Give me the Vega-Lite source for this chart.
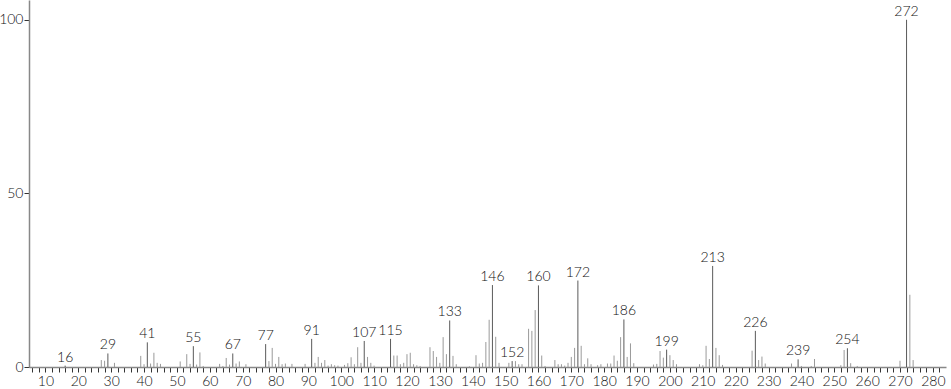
{
  "$schema": "https://vega.github.io/schema/vega-lite/v6.json",
  "width": 917,
  "height": 367,
  "autosize": {"type": "none"},
  "padding": {"left": 29, "top": 0, "right": 5, "bottom": 22},
  "background": "white",
  "config": {"view": {"stroke": null}, "font": "Lato"},
  "data": {"values": [
    {"mz":16,"i":0.4,"lab":1},{"mz":27,"i":2.0,"lab":0},{"mz":28,"i":1.8,"lab":0},{"mz":29,"i":3.9,"lab":1},{"mz":31,"i":1.2,"lab":0},
    {"mz":39,"i":3.2,"lab":0},{"mz":40,"i":0.8,"lab":0},{"mz":41,"i":7.1,"lab":1},{"mz":42,"i":1.0,"lab":0},{"mz":43,"i":4.1,"lab":0},
    {"mz":44,"i":1.2,"lab":0},{"mz":45,"i":0.9,"lab":0},{"mz":51,"i":1.6,"lab":0},{"mz":53,"i":3.7,"lab":0},{"mz":54,"i":0.9,"lab":0},
    {"mz":55,"i":6.0,"lab":1},{"mz":56,"i":0.7,"lab":0},{"mz":57,"i":4.2,"lab":0},{"mz":58,"i":0.3,"lab":0},{"mz":63,"i":0.9,"lab":0},
    {"mz":64,"i":0.3,"lab":0},{"mz":65,"i":2.6,"lab":0},{"mz":66,"i":0.7,"lab":0},{"mz":67,"i":3.9,"lab":1},{"mz":68,"i":1.0,"lab":0},
    {"mz":69,"i":1.6,"lab":0},{"mz":71,"i":0.8,"lab":0},{"mz":77,"i":6.6,"lab":1},{"mz":78,"i":1.7,"lab":0},{"mz":79,"i":5.5,"lab":0},
    {"mz":80,"i":0.9,"lab":0},{"mz":81,"i":2.9,"lab":0},{"mz":82,"i":0.8,"lab":0},{"mz":83,"i":1.0,"lab":0},{"mz":85,"i":0.9,"lab":0},
    {"mz":89,"i":0.9,"lab":0},{"mz":91,"i":8.1,"lab":1},{"mz":92,"i":1.2,"lab":0},{"mz":93,"i":2.9,"lab":0},{"mz":94,"i":1.2,"lab":0},
    {"mz":95,"i":2.0,"lab":0},{"mz":96,"i":0.4,"lab":0},{"mz":97,"i":0.8,"lab":0},{"mz":98,"i":0.5,"lab":0},{"mz":99,"i":0.4,"lab":0},
    {"mz":101,"i":0.6,"lab":0},{"mz":102,"i":1.1,"lab":0},{"mz":103,"i":2.8,"lab":0},{"mz":104,"i":0.8,"lab":0},{"mz":105,"i":5.7,"lab":0},
    {"mz":106,"i":1.2,"lab":0},{"mz":107,"i":7.5,"lab":1},{"mz":108,"i":2.9,"lab":0},{"mz":109,"i":1.2,"lab":0},{"mz":110,"i":0.4,"lab":0},
    {"mz":115,"i":8.1,"lab":1},{"mz":116,"i":3.3,"lab":0},{"mz":117,"i":3.3,"lab":0},{"mz":118,"i":0.8,"lab":0},{"mz":119,"i":1.2,"lab":0},
    {"mz":120,"i":3.7,"lab":0},{"mz":121,"i":4.1,"lab":0},{"mz":122,"i":0.8,"lab":0},{"mz":123,"i":0.5,"lab":0},{"mz":124,"i":0.3,"lab":0},
    {"mz":127,"i":5.7,"lab":0},{"mz":128,"i":4.6,"lab":0},{"mz":129,"i":2.9,"lab":0},{"mz":130,"i":1.2,"lab":0},{"mz":131,"i":8.6,"lab":0},
    {"mz":132,"i":3.7,"lab":0},{"mz":133,"i":13.4,"lab":1},{"mz":134,"i":3.2,"lab":0},{"mz":135,"i":0.8,"lab":0},{"mz":139,"i":0.2,"lab":0},
    {"mz":141,"i":3.4,"lab":0},{"mz":142,"i":1.0,"lab":0},{"mz":143,"i":1.2,"lab":0},{"mz":144,"i":7.2,"lab":0},{"mz":145,"i":13.6,"lab":0},
    {"mz":146,"i":23.6,"lab":1},{"mz":147,"i":8.7,"lab":0},{"mz":148,"i":1.2,"lab":0},{"mz":151,"i":1.2,"lab":0},{"mz":152,"i":1.7,"lab":1},
    {"mz":153,"i":1.7,"lab":0},{"mz":154,"i":0.8,"lab":0},{"mz":155,"i":0.8,"lab":0},{"mz":157,"i":11.0,"lab":0},{"mz":158,"i":10.4,"lab":0},
    {"mz":159,"i":16.4,"lab":0},{"mz":160,"i":23.5,"lab":1},{"mz":161,"i":3.3,"lab":0},{"mz":162,"i":0.3,"lab":0},{"mz":165,"i":2.0,"lab":0},
    {"mz":166,"i":0.8,"lab":0},{"mz":167,"i":0.8,"lab":0},{"mz":168,"i":0.4,"lab":0},{"mz":169,"i":1.2,"lab":0},{"mz":170,"i":2.9,"lab":0},
    {"mz":171,"i":5.5,"lab":0},{"mz":172,"i":24.9,"lab":1},{"mz":173,"i":6.1,"lab":0},{"mz":174,"i":0.8,"lab":0},{"mz":175,"i":2.5,"lab":0},
    {"mz":176,"i":0.8,"lab":0},{"mz":178,"i":0.5,"lab":0},{"mz":179,"i":0.8,"lab":0},{"mz":181,"i":1.0,"lab":0},{"mz":182,"i":1.0,"lab":0},
    {"mz":183,"i":3.3,"lab":0},{"mz":184,"i":1.8,"lab":0},{"mz":185,"i":8.6,"lab":0},{"mz":186,"i":13.7,"lab":1},{"mz":187,"i":2.9,"lab":0},
    {"mz":188,"i":6.8,"lab":0},{"mz":189,"i":1.1,"lab":0},{"mz":195,"i":0.7,"lab":0},{"mz":196,"i":0.9,"lab":0},{"mz":197,"i":4.6,"lab":0},
    {"mz":198,"i":2.7,"lab":0},{"mz":199,"i":5.0,"lab":1},{"mz":200,"i":3.4,"lab":0},{"mz":201,"i":2.0,"lab":0},{"mz":202,"i":0.8,"lab":0},
    {"mz":209,"i":0.8,"lab":0},{"mz":210,"i":0.5,"lab":0},{"mz":211,"i":6.1,"lab":0},{"mz":212,"i":2.3,"lab":0},{"mz":213,"i":29.1,"lab":1},
    {"mz":214,"i":5.5,"lab":0},{"mz":215,"i":3.4,"lab":0},{"mz":216,"i":0.6,"lab":0},{"mz":225,"i":4.7,"lab":0},{"mz":226,"i":10.4,"lab":1},
    {"mz":227,"i":2.0,"lab":0},{"mz":228,"i":3.0,"lab":0},{"mz":229,"i":1.0,"lab":0},{"mz":237,"i":1.0,"lab":0},{"mz":239,"i":2.2,"lab":1},
    {"mz":240,"i":0.3,"lab":0},{"mz":243,"i":0.3,"lab":0},{"mz":244,"i":2.3,"lab":0},{"mz":252,"i":0.5,"lab":0},{"mz":253,"i":4.9,"lab":0},
    {"mz":254,"i":5.4,"lab":1},{"mz":255,"i":1.1,"lab":0},{"mz":257,"i":0.3,"lab":0},{"mz":270,"i":1.8,"lab":0},{"mz":272,"i":100,"lab":1},
    {"mz":273,"i":20.8,"lab":0},{"mz":274,"i":2.0,"lab":0}
  ]},
  "encoding": {
    "x": {"field": "mz", "type": "quantitative",
      "scale": {"domain": [5, 284], "nice": false, "zero": false},
      "axis": {"title": null, "grid": false, "tickCount": 140,
        "values": [6,8,10,12,14,16,18,20,22,24,26,28,30,32,34,36,38,40,42,44,46,48,50,52,54,56,58,60,62,64,66,68,70,72,74,76,78,80,82,84,86,88,90,92,94,96,98,100,102,104,106,108,110,112,114,116,118,120,122,124,126,128,130,132,134,136,138,140,142,144,146,148,150,152,154,156,158,160,162,164,166,168,170,172,174,176,178,180,182,184,186,188,190,192,194,196,198,200,202,204,206,208,210,212,214,216,218,220,222,224,226,228,230,232,234,236,238,240,242,244,246,248,250,252,254,256,258,260,262,264,266,268,270,272,274,276,278,280,282],
        "labelExpr": "datum.value % 10 === 0 ? datum.label : ''",
        "domainColor": "#888", "domainWidth": 1.5,
        "tickColor": "#333", "tickSize": 5, "tickWidth": 1,
        "labelColor": "#111", "labelFontSize": 14, "labelPadding": 2,
        "labelFont": "Lato", "labelFontWeight": 300, "labelOverlap": false, "labelFlush": false, "labelBound": false}},
    "y": {"field": "i", "type": "quantitative",
      "scale": {"domain": [0, 105.7], "nice": false},
      "axis": {"title": null, "grid": false, "values": [0, 50, 100],
        "domainColor": "#888", "domainWidth": 1.5,
        "tickColor": "#333", "tickSize": 5, "tickWidth": 1,
        "labelColor": "#111", "labelFontSize": 14, "labelPadding": 1,
        "labelFont": "Lato", "labelFontWeight": 300, "labelFlush": false}}
  },
  "layer": [
    {
      "mark": {"type": "rule", "strokeWidth": 1},
      "encoding": {
        "y2": {"datum": 0},
        "color": {"field": "lab", "type": "nominal",
          "scale": {"domain": [0, 1], "range": ["#9a9a9a", "#5a5a5a"]},
          "legend": null}
      }
    },
    {
      "transform": [{"filter": "datum.lab === 1"}],
      "mark": {"type": "text", "baseline": "alphabetic", "align": "center", "dy": -4,
        "fontSize": 14, "font": "Lato", "fontWeight": 300, "color": "#111"},
      "encoding": {
        "text": {"field": "mz", "type": "nominal"}
      }
    }
  ]
}
